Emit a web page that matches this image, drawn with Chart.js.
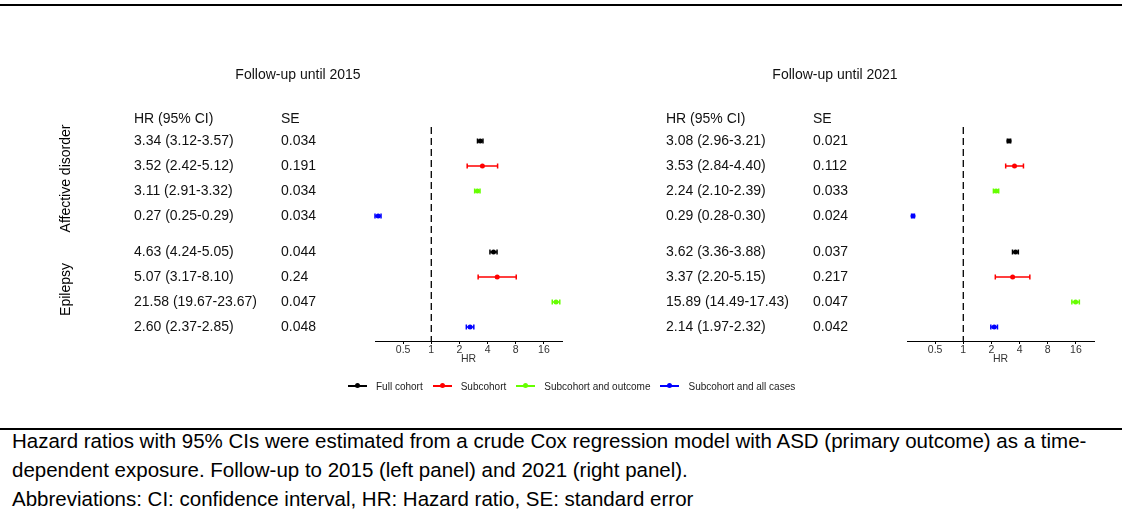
<!DOCTYPE html>
<html>
<head>
<meta charset="utf-8">
<script src="https://cdn.jsdelivr.net/npm/chart.js@4.4.1/dist/chart.umd.min.js"></script>
<style>
  body { margin: 0; background: #fff; width: 1122px; height: 531px; position: relative; overflow: hidden;
         font-family: Arial, "Liberation Sans", sans-serif; }
  canvas { position: absolute; top: 0; }
  #left { left: 0; }
  #right { left: 590px; }
  .rule { position: absolute; left: 0; width: 1122px; height: 2px; background: #000; }
  #legend { position: absolute; left: 348px; top: 379px; height: 14px; display: flex; align-items: center;
            font-size: 10px; color: #222; white-space: nowrap; }
  .sym { position: relative; width: 19px; height: 14px; margin-right: 9px; }
  .sym .ln { position: absolute; left: 0; right: 0; top: 6px; height: 1.5px; }
  .sym .dot { position: absolute; left: 7px; top: 4.3px; width: 5px; height: 5px; border-radius: 50%; }
  .lab { margin-right: 10px; }
  #note { position: absolute; left: 12px; top: 426px; font-size: 20.5px; line-height: 29px; color: #000; width: 1100px; }
</style>
</head>
<body>
<div class="rule" style="top:4px"></div>
<canvas id="left" width="590" height="420"></canvas>
<canvas id="right" width="532" height="420"></canvas>
<div id="legend"></div>
<div class="rule" style="top:428px"></div>
<div id="note">Hazard ratios with 95% CIs were estimated from a crude Cox regression model with ASD (primary outcome) as a time-<br>dependent exposure. Follow-up to 2015 (left panel) and 2021 (right panel).<br>Abbreviations: CI: confidence interval, HR: Hazard ratio, SE: standard error</div>
<script>
// series and groups
const series = ["Full cohort", "Subcohort", "Subcohort and outcome", "Subcohort and all cases"];
const colors = ["#000000", "#ff0000", "#66ff00", "#0000ff"];
const groups = ["Affective disorder", "Epilepsy"];

// rows: Affective disorder (4 series), then Epilepsy (4 series)
const hr2015 = [3.34, 3.52, 3.11, 0.27, 4.63, 5.07, 21.58, 2.60];
const lo2015 = [3.12, 2.42, 2.91, 0.25, 4.24, 3.17, 19.67, 2.37];
const hi2015 = [3.57, 5.12, 3.32, 0.29, 5.05, 8.10, 23.67, 2.85];
const se2015 = [0.034, 0.191, 0.034, 0.034, 0.044, 0.24, 0.047, 0.048];

const hr2021 = [3.08, 3.53, 2.24, 0.29, 3.62, 3.37, 15.89, 2.14];
const lo2021 = [2.96, 2.84, 2.10, 0.28, 3.36, 2.20, 14.49, 1.97];
const hi2021 = [3.21, 4.40, 2.39, 0.30, 3.88, 5.15, 17.43, 2.32];
const se2021 = [0.021, 0.112, 0.033, 0.024, 0.037, 0.217, 0.047, 0.042];

const xTicks = [0.5, 1, 2, 4, 8, 16];

const FONT = "Arial, 'Liberation Sans', sans-serif";
const groupGap = 0.44;

function rowY(i) {
  return Math.floor(i / series.length) * (series.length + groupGap) + (i % series.length);
}

function fmt(v) { return v.toFixed(2); }

function makePanel(id, title, hr, lo, hi, se, lay) {
  const datasets = series.map((name, s) => ({
    label: name,
    data: groups.map((g, gi) => {
      const i = gi * series.length + s;
      return { x: hr[i], y: rowY(i), lo: lo[i], hi: hi[i] };
    }),
    backgroundColor: colors[s],
    borderColor: colors[s],
    pointRadius: 2.5,
    pointBorderWidth: 0,
    showLine: false
  }));

  const forest = {
    id: "forest",
    beforeDatasetsDraw(chart) {
      const ctx = chart.ctx;
      const xs = chart.scales.x, ys = chart.scales.y;
      const area = chart.chartArea;
      // reference line at HR = 1
      ctx.save();
      ctx.strokeStyle = "#000";
      ctx.lineWidth = 1.3;
      ctx.setLineDash([7, 4]);
      const x1 = xs.getPixelForValue(1);
      ctx.beginPath();
      ctx.moveTo(x1, area.top);
      ctx.lineTo(x1, area.bottom);
      ctx.stroke();
      ctx.setLineDash([]);
      // confidence intervals
      chart.data.datasets.forEach(ds => {
        ctx.strokeStyle = ds.borderColor;
        ctx.lineWidth = 1.5;
        ds.data.forEach(p => {
          const y = ys.getPixelForValue(p.y);
          const a = xs.getPixelForValue(p.lo), b = xs.getPixelForValue(p.hi);
          ctx.beginPath();
          ctx.moveTo(a, y); ctx.lineTo(b, y);
          ctx.moveTo(a, y - 2.5); ctx.lineTo(a, y + 2.5);
          ctx.moveTo(b, y - 2.5); ctx.lineTo(b, y + 2.5);
          ctx.stroke();
        });
      });
      ctx.restore();
    },
    afterDraw(chart) {
      const ctx = chart.ctx;
      const ys = chart.scales.y;
      ctx.save();
      ctx.fillStyle = "#111";
      ctx.font = "14px " + FONT;
      ctx.textBaseline = "middle";
      ctx.textAlign = "center";
      ctx.fillText(title, lay.titleX, 75);
      ctx.textAlign = "left";
      const hy = ys.getPixelForValue(rowY(0) - 0.88);
      ctx.fillText("HR (95% CI)", lay.hrX, hy);
      ctx.fillText("SE", lay.seX, hy);
      hr.forEach((v, i) => {
        const y = ys.getPixelForValue(rowY(i));
        ctx.fillText(fmt(v) + " (" + fmt(lo[i]) + "-" + fmt(hi[i]) + ")", lay.hrX, y);
        ctx.fillText(String(se[i]), lay.seX, y);
      });
      if (lay.groupX) {
        ctx.fillStyle = "#000";
        ctx.textAlign = "center";
        groups.forEach((g, gi) => {
          const a = ys.getPixelForValue(rowY(gi * series.length));
          const b = ys.getPixelForValue(rowY(gi * series.length + series.length - 1));
          ctx.save();
          ctx.translate(lay.groupX, (a + b) / 2);
          ctx.rotate(-Math.PI / 2);
          ctx.fillText(g, 0, 0);
          ctx.restore();
        });
      }
      ctx.restore();
    }
  };

  return new Chart(document.getElementById(id), {
    type: "scatter",
    data: { datasets: datasets },
    options: {
      responsive: false,
      animation: false,
      layout: { padding: { left: lay.padLeft, right: lay.padRight, top: 127, bottom: 55 } },
      plugins: { legend: { display: false }, tooltip: { enabled: false } },
      scales: {
        x: {
          type: "logarithmic",
          min: 0.25,
          max: 25,
          afterBuildTicks: s => { s.ticks = xTicks.map(v => ({ value: v })); },
          afterFit: s => { s.height = 24; },
          ticks: {
            callback: v => String(v),
            autoSkip: false,
            maxRotation: 0,
            padding: 0,
            color: "#333",
            font: { family: FONT, size: 10.5 }
          },
          grid: { drawOnChartArea: false, tickLength: 3, color: "#000", tickColor: "#000" },
          border: { color: "#000", width: 1 },
          title: { display: true, text: "HR", color: "#333", padding: 0, font: { family: FONT, size: 10.5 } }
        },
        y: { type: "linear", min: -0.56, max: 8.0, reverse: true, display: false }
      }
    },
    plugins: [forest]
  });
}

makePanel("left", "Follow-up until 2015", hr2015, lo2015, hi2015, se2015,
  { padLeft: 375, padRight: 28, titleX: 298, hrX: 134, seX: 281, groupX: 66 });
makePanel("right", "Follow-up until 2021", hr2021, lo2021, hi2021, se2021,
  { padLeft: 317, padRight: 28, titleX: 245, hrX: 76, seX: 223, groupX: 0 });

// legend
const legend = document.getElementById("legend");
series.forEach((name, s) => {
  const sym = document.createElement("div");
  sym.className = "sym";
  sym.innerHTML = '<div class="ln" style="background:' + colors[s] + '"></div><div class="dot" style="background:' + colors[s] + '"></div>';
  const lab = document.createElement("div");
  lab.className = "lab";
  lab.textContent = name;
  legend.appendChild(sym);
  legend.appendChild(lab);
});
</script>
</body>
</html>
